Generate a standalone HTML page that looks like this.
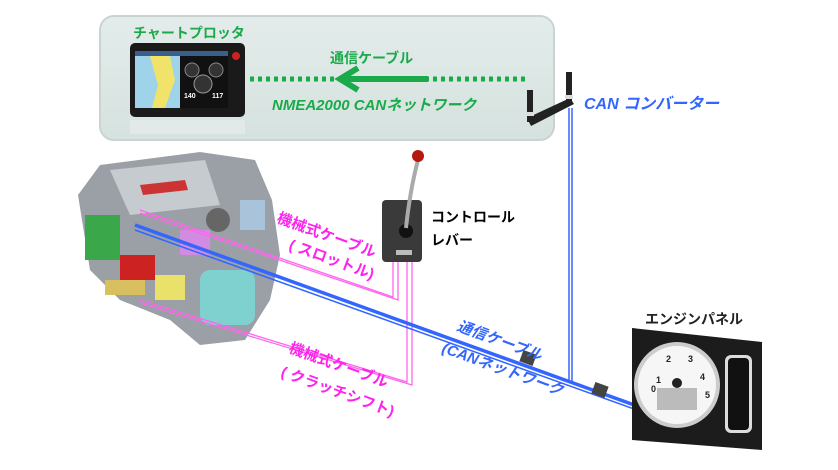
<!DOCTYPE html>
<html><head><meta charset="utf-8"><style>
html,body{margin:0;padding:0;background:#fff;width:838px;height:470px;overflow:hidden}
svg text{font-family:"Liberation Sans","Noto Sans CJK JP",sans-serif;font-weight:bold}
</style></head><body>
<svg width="838" height="470" viewBox="0 0 838 470" xmlns="http://www.w3.org/2000/svg">
<defs>
<linearGradient id="pg" x1="0" y1="0" x2="0" y2="1"><stop offset="0" stop-color="#e3ecea"/><stop offset="1" stop-color="#d6e2df"/></linearGradient>
</defs>
<rect x="100" y="16" width="454" height="124" rx="14" fill="url(#pg)" stroke="#c9d4d2" stroke-width="2"/>
<text x="133" y="38" font-size="14" fill="#1aaa4a">チャートプロッタ</text>
<rect x="130" y="43" width="115" height="74" rx="5" fill="#1a1a1a"/>
<rect x="135" y="51" width="93" height="57" fill="#111"/>
<rect x="135" y="56" width="45" height="52" fill="#9fd3ea"/>
<path d="M150 56 L170 56 L175 80 L165 108 L152 108 L158 85 Z" fill="#f1e36a"/>
<rect x="135" y="51" width="93" height="5" fill="#3a5f8a"/>
<circle cx="192" cy="70" r="7" fill="#333" stroke="#888"/>
<circle cx="216" cy="70" r="7" fill="#333" stroke="#888"/>
<circle cx="203" cy="84" r="9" fill="#333" stroke="#999"/>
<text x="184" y="98" font-size="7" fill="#fff">140</text><text x="212" y="98" font-size="7" fill="#fff">117</text>
<circle cx="236" cy="56" r="4" fill="#c22"/>
<rect x="130" y="120" width="115" height="14" fill="#e8eeed" opacity="0.6"/>
<text x="330" y="63" font-size="14" fill="#1aaa4a">通信ケーブル</text>
<line x1="250" y1="79" x2="335" y2="79" stroke="#1aaa4a" stroke-width="5" stroke-dasharray="4,4"/>
<line x1="425" y1="79" x2="525" y2="79" stroke="#1aaa4a" stroke-width="5" stroke-dasharray="4,4"/>
<line x1="345" y1="79" x2="428" y2="79" stroke="#1aaa4a" stroke-width="6"/>
<polyline points="358,68 340,79 358,90" fill="none" stroke="#1aaa4a" stroke-width="6"/>
<text x="272" y="110" font-size="15" fill="#1aaa4a" font-style="italic">NMEA2000 CANネットワーク</text>
<path d="M527 118 L570 98 L574 104 L531 126 Z" fill="#222"/>
<rect x="527" y="90" width="6" height="32" fill="#222"/>
<rect x="566" y="72" width="6" height="32" fill="#222"/>
<rect x="526" y="112" width="8" height="4" fill="#ddd"/>
<rect x="565" y="95" width="8" height="4" fill="#ddd"/>
<text x="584" y="109" font-size="16" fill="#3366ff" font-style="italic">CAN コンバーター</text>
<line x1="569" y1="108" x2="569" y2="382" stroke="#3366ff" stroke-width="1.5"/>
<line x1="572" y1="108" x2="572" y2="382" stroke="#3366ff" stroke-width="1.5"/>
<path d="M78 195 L100 165 L200 152 L255 160 L272 200 L280 255 L270 300 L245 340 L200 345 L170 320 L120 300 L90 270 Z" fill="#9aa0a5"/>
<path d="M110 170 L205 160 L220 205 L130 215 Z" fill="#c6cbd0"/>
<path d="M140 185 L185 180 L188 190 L143 195 Z" fill="#c33"/>
<rect x="85" y="215" width="35" height="45" fill="#3aa84a"/>
<rect x="200" y="270" width="55" height="55" rx="10" fill="#7fd1cf"/>
<rect x="180" y="230" width="30" height="25" fill="#d18be0"/>
<rect x="240" y="200" width="25" height="30" fill="#a9c3db"/>
<circle cx="218" cy="220" r="12" fill="#666"/>
<rect x="120" y="255" width="35" height="25" fill="#c22"/>
<rect x="155" y="275" width="30" height="25" fill="#e9e16a"/>
<rect x="105" y="280" width="40" height="15" fill="#d8c060"/>
<g stroke="#ff66ee" stroke-width="1.3" fill="none">
<polyline points="140,210 393,297 393,262"/><polyline points="140,213 398,300 398,262"/>
<polyline points="140,300 407,382 407,232"/><polyline points="140,303 412,385 412,232"/>
</g>
<line x1="135" y1="225" x2="648" y2="410" stroke="#3366ff" stroke-width="3.5"/>
<line x1="135" y1="230" x2="648" y2="414" stroke="#3366ff" stroke-width="1.5"/>
<rect x="521" y="352" width="14" height="12" fill="#444" transform="rotate(20 528 358)"/>
<rect x="593" y="384" width="14" height="12" fill="#444" transform="rotate(20 600 390)"/>
<rect x="382" y="200" width="40" height="62" rx="4" fill="#3a3a3a"/>
<rect x="396" y="250" width="16" height="5" fill="#bbb"/>
<circle cx="406" cy="231" r="7" fill="#111"/>
<path d="M406 228 Q410 190 418 160" stroke="#aaa" stroke-width="4" fill="none"/>
<circle cx="418" cy="156" r="6" fill="#b51a10"/>
<text x="431" y="222" font-size="14" fill="#000">コントロール</text>
<text x="431" y="245" font-size="14" fill="#000">レバー</text>
<g fill="#ff22ee" font-size="15">
<text transform="translate(276 222) rotate(20)">機械式ケーブル</text>
<text transform="translate(288 249) rotate(20)">( スロットル)</text>
<text transform="translate(288 352) rotate(20)">機械式ケーブル</text>
<text transform="translate(280 376) rotate(20)">( クラッチシフト)</text>
</g>
<g fill="#3366ff" font-size="15" font-style="italic">
<text transform="translate(456 330) rotate(20)">通信ケーブル</text>
<text transform="translate(441 352) rotate(20)">(CANネットワーク</text>
</g>
<text x="645" y="324" font-size="14" fill="#222">エンジンパネル</text>
<path d="M632 328 L762 342 L762 450 L632 440 Z" fill="#1c1c1c"/>
<circle cx="677" cy="385" r="43" fill="#ccc"/>
<circle cx="677" cy="385" r="39" fill="#f6f6f6"/>
<rect x="657" y="388" width="40" height="22" fill="#bbb"/>
<circle cx="677" cy="383" r="5" fill="#222"/>
<text x="656" y="383" font-size="9" fill="#222">1</text><text x="666" y="362" font-size="9" fill="#222">2</text><text x="688" y="362" font-size="9" fill="#222">3</text><text x="700" y="380" font-size="9" fill="#222">4</text><text x="705" y="398" font-size="9" fill="#222">5</text><text x="651" y="392" font-size="9" fill="#222">0</text>
<rect x="725" y="355" width="27" height="78" rx="6" fill="#ddd"/>
<rect x="728" y="358" width="21" height="72" rx="4" fill="#111"/>
</svg>
</body></html>
